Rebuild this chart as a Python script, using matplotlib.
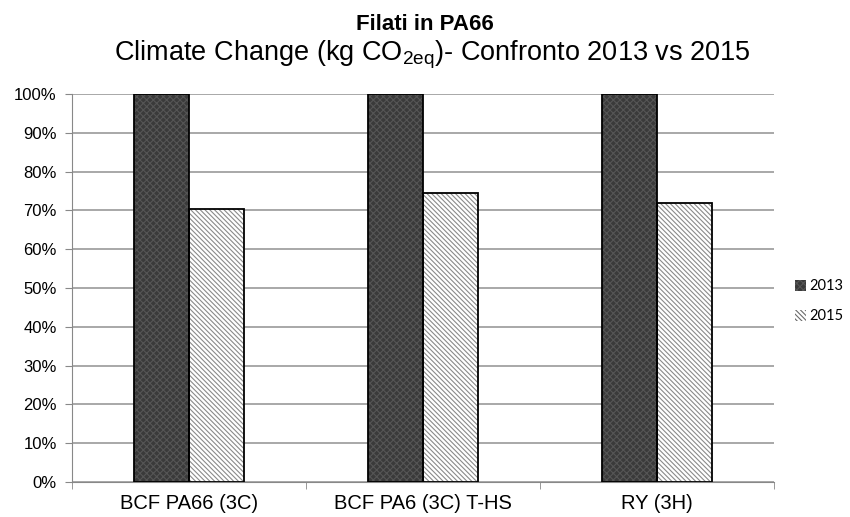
import matplotlib.pyplot as plt
from matplotlib.patches import Patch
import numpy as np

categories = ['BCF PA66 (3C)', 'BCF PA6 (3C) T-HS', 'RY (3H)']
series_names = ['2013', '2015']
val_2013 = [100, 100, 100]
val_2015 = [70.3, 74.5, 71.8]

plt.rcParams['font.family'] = ['Liberation Sans', 'DejaVu Sans']
plt.rcParams['hatch.linewidth'] = 0.8

fig = plt.figure(figsize=(8.5, 5.17), dpi=100)
ax = fig.add_axes([0.0847, 0.0677, 0.8259, 0.7505])

x = np.arange(len(categories))
w = 0.235

# 2013 - dark checkered
ax.bar(x - w / 2, val_2013, w, color='#3a3a3a', hatch='xxxxx', edgecolor='#555555', linewidth=0, zorder=3)
ax.bar(x - w / 2, val_2013, w, fill=False, edgecolor='black', linewidth=1.3, zorder=4)
# 2015 - diagonal stripes
ax.bar(x + w / 2, val_2015, w, color='white', hatch='\\\\\\\\\\\\\\', edgecolor='#8a8a8a', linewidth=0, zorder=3)
ax.bar(x + w / 2, val_2015, w, fill=False, edgecolor='black', linewidth=1.3, zorder=4)

ax.set_xlim(-0.5, len(categories) - 0.5)
ax.set_ylim(0, 100)
ax.set_yticks(np.arange(0, 101, 10))
ax.set_yticklabels([f'{v}%' for v in range(0, 101, 10)], fontsize=12)
ax.set_xticks(x)
ax.set_xticklabels(categories, fontsize=14.5)
ax.set_xticks(np.arange(-0.5, len(categories), 1), minor=True)
ax.tick_params(axis='x', which='major', length=0, pad=9)
ax.tick_params(axis='x', which='minor', length=5, color='#888888', direction='out')
ax.tick_params(axis='y', length=5, color='#888888', direction='out', pad=6)

ax.grid(axis='y', color='#9a9a9a', linewidth=1.2, zorder=0)
for s in ['top', 'right']:
    ax.spines[s].set_visible(False)
ax.spines['left'].set_color('#888888')
ax.spines['bottom'].set_color('#888888')

handles = [
    Patch(facecolor='#3a3a3a', hatch='xxxxx', edgecolor='#555555', linewidth=0),
    Patch(facecolor='white', hatch='\\\\\\\\\\\\\\', edgecolor='#6a6a6a', linewidth=0),
]
leg = fig.legend(handles, series_names, loc='center left', bbox_to_anchor=(0.925, 0.417),
                 frameon=False, handlelength=0.75, handleheight=0.75, borderaxespad=0.2,
                 handletextpad=0.2, labelspacing=1.1, prop={'family': ['Lato', 'DejaVu Sans'], 'size': 10.5})

fig.text(0.5, 0.953, 'Filati in PA66', ha='center', va='center', fontsize=16, fontweight='bold')
fig.text(0.509, 0.893, r'Climate Change (kg CO$_{\mathregular{2eq}}$)- Confronto 2013 vs 2015',
         ha='center', va='center', fontsize=19.5)

fig.savefig('out.png', dpi=100)
